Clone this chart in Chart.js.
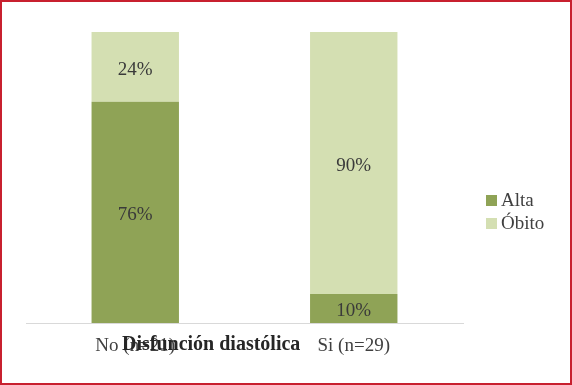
<!DOCTYPE html>
<html>
<head>
<meta charset="utf-8">
<script src="https://cdn.jsdelivr.net/npm/chart.js@4"></script>
<style>
  body { margin: 0; background: #fff; }
  #frame { position: relative; width: 572px; height: 385px; box-sizing: border-box; border: 2px solid #c8202f; background: #fff; }
  #wrap { position: absolute; left: 0; top: 0; width: 568px; height: 381px; }
  .leg { position: absolute; left: 484px; font: 19px "Liberation Serif", serif; color: #404040; line-height: 22px; }
  .leg span { display: inline-block; width: 11px; height: 11px; margin-right: 4px; vertical-align: 0px; }
  #xtitle { position: absolute; left: 120px; top: 329px; font: bold 20px "Liberation Serif", serif; color: #262626; line-height: 24px; white-space: nowrap; }
</style>
</head>
<body>
<div id="frame">
  <div id="wrap"><canvas id="chart"></canvas></div>
  <div id="xtitle">Disfunción diastólica</div>
  <div class="leg" style="top:187px"><span style="background:#8fa356"></span>Alta</div>
  <div class="leg" style="top:210px"><span style="background:#d4dfb2"></span>Óbito</div>
</div>
<script>
// stacked 100% bars
const categories = ['No (n=21)', 'Si (n=29)'];
const alta = [76, 10];
const obito = [24, 90];

const barLabels = {
  id: 'barLabels',
  afterDatasetsDraw(chart){
    const ctx = chart.ctx;
    ctx.save();
    ctx.font = '19px "Liberation Serif", serif';
    ctx.fillStyle = '#3a3a3a';
    ctx.textAlign = 'center';
    ctx.textBaseline = 'middle';
    chart.data.datasets.forEach((ds, i) => {
      chart.getDatasetMeta(i).data.forEach((bar, j) => {
        const y = (bar.y + bar.base) / 2 + 3;
        ctx.fillText(ds.data[j] + '%', bar.x, y);
      });
    });
    ctx.restore();
  }
};

new Chart(document.getElementById('chart'), {
  type: 'bar',
  data: {
    labels: categories,
    datasets: [
      { label: 'Alta', data: alta, backgroundColor: '#8fa356' },
      { label: 'Óbito', data: obito, backgroundColor: '#d4dfb2' }
    ]
  },
  options: {
    responsive: true,
    maintainAspectRatio: false,
    animation: false,
    layout: { padding: { left: 24, right: 107, top: 30, bottom: 20 } },
    datasets: { bar: { categoryPercentage: 1, barPercentage: 0.4 } },
    plugins: { legend: { display: false }, tooltip: { enabled: false } },
    scales: {
      x: {
        stacked: true,
        afterFit(scale){ scale.height = 40; },
        grid: { display: true, drawOnChartArea: false, drawTicks: false },
        border: { display: true, color: '#d9d9d9', width: 1 },
        ticks: { padding: 12, color: '#404040', font: { family: '"Liberation Serif", serif', size: 19 } }
      },
      y: { stacked: true, display: false, min: 0, max: 100 }
    }
  },
  plugins: [barLabels]
});
</script>
</body>
</html>
